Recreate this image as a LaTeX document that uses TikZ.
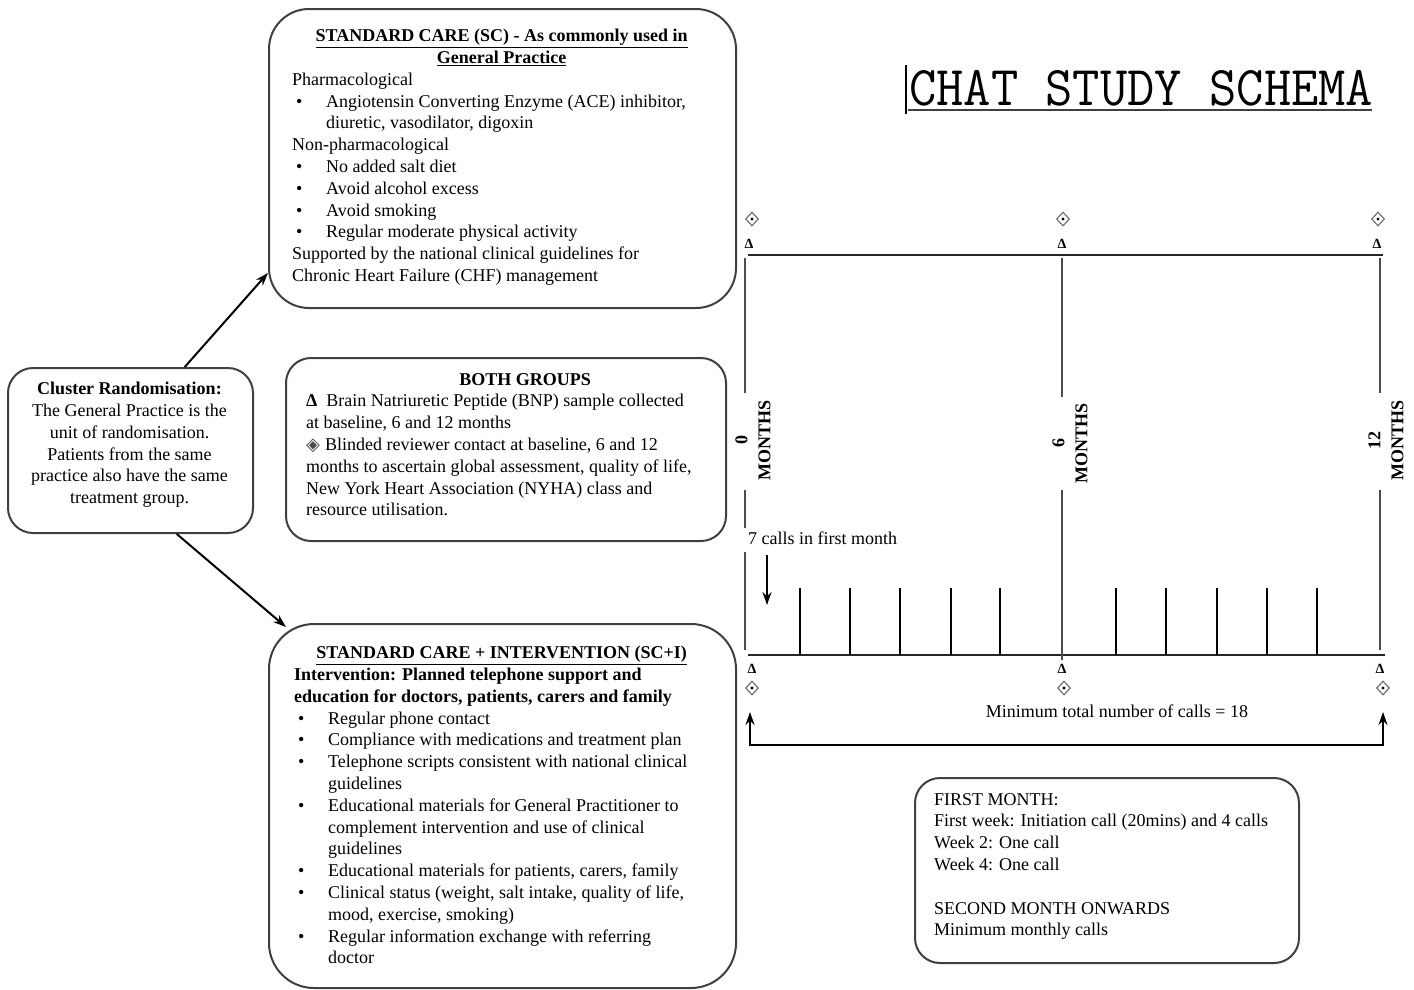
\documentclass[tikz,border=0pt]{standalone}
\usepackage{fontspec}
\setmainfont{Liberation Serif}
\newfontfamily\symfont{DejaVu Sans}
\usepackage{graphicx}
\usetikzlibrary{arrows.meta,calc,shapes.geometric}
\newcommand{\bitem}{\hspace*{4pt}\makebox[30pt][l]{\textbullet}}
\newcommand{\bcont}{\hspace*{34pt}}
\begin{document}
\begin{tikzpicture}[x=1pt,y=-1pt,
  box/.style={draw=black!75, line width=2pt, fill=white, inner sep=0pt, anchor=north west},
  txt/.style={anchor=north west, inner sep=0pt, align=left, font=\fontsize{18}{21.8}\selectfont},
  arr/.style={line width=2pt, -{Stealth[length=13pt,width=9pt]}},
  vline/.style={line width=1.4pt, black!70},
  tick/.style={line width=2pt, black},
  axis/.style={line width=2.5pt, black!85},
  dmd/.style={shape=diamond, draw=black!55, line width=1.2pt, inner sep=0pt, minimum width=13pt, minimum height=14pt,
     path picture={\fill[black] (path picture bounding box.center) circle (1.7pt);}},
  dlt/.style={inner sep=0pt, font=\fontsize{14}{14}\selectfont\bfseries},
  mlab/.style={rotate=90, align=center, inner sep=0pt, font=\fontsize{18}{23}\selectfont\bfseries}]
\useasboundingbox (0,0) rectangle (1414,989);

% boxes
\node[box, rounded corners=40pt, minimum width=467pt, minimum height=299pt] (sc) at (268,8) {};
\node[box, rounded corners=25pt, minimum width=245pt, minimum height=165pt] (clu) at (7,367) {};
\node[box, rounded corners=25pt, minimum width=440pt, minimum height=183pt] (both) at (285,357) {};
\node[box, rounded corners=45pt, minimum width=467pt, minimum height=364pt] (sci) at (268,623) {};
\node[box, rounded corners=25pt, minimum width=384pt, minimum height=185pt] (fm) at (914,777) {};

% texts
\node[txt] (sctext) at (292,29) {%
\makebox[419pt][c]{\bfseries\underline{STANDARD CARE (SC) - As commonly used in}}\\
\makebox[419pt][c]{\bfseries\underline{General Practice}}\\
Pharmacological\\
\bitem Angiotensin Converting Enzyme (ACE) inhibitor,\\
\bcont diuretic, vasodilator, digoxin\\
Non-pharmacological\\
\bitem No added salt diet\\
\bitem Avoid alcohol excess\\
\bitem Avoid smoking\\
\bitem Regular moderate physical activity\\
Supported by the national clinical guidelines for\\
Chronic Heart Failure (CHF) management};

\node[txt, align=center, anchor=north] (clutext) at (129.5,382) {%
\textbf{Cluster Randomisation:}\\
The General Practice is the\\
unit of randomisation.\\
Patients from the same\\
practice also have the same\\
treatment group.};

\node[txt] (bothtext) at (306,373) {%
\makebox[438pt][c]{\bfseries BOTH GROUPS}\\
\textbf{Δ}\hspace{9pt}Brain Natriuretic Peptide (BNP) sample collected\\
at baseline, 6 and 12 months\\
{\fontsize{18}{18}\symfont\color{black!70}◈}\hspace{5pt}Blinded reviewer contact at baseline, 6 and 12\\
months to ascertain global assessment, quality of life,\\
New York Heart Association (NYHA) class and\\
resource utilisation.};

\node[txt] (scitext) at (294,646) {%
\makebox[415pt][c]{\bfseries\underline{STANDARD CARE + INTERVENTION (SC+I)}}\\
\textbf{Intervention: Planned telephone support and}\\
\textbf{education for doctors, patients, carers and family}\\
\bitem Regular phone contact\\
\bitem Compliance with medications and treatment plan\\
\bitem Telephone scripts consistent with national clinical\\
\bcont guidelines\\
\bitem Educational materials for General Practitioner to\\
\bcont complement intervention and use of clinical\\
\bcont guidelines\\
\bitem Educational materials for patients, carers, family\\
\bitem Clinical status (weight, salt intake, quality of life,\\
\bcont mood, exercise, smoking)\\
\bitem Regular information exchange with referring\\
\bcont doctor};

\node[txt] (fmtext) at (934,793) {%
FIRST MONTH:\\
First week: Initiation call (20mins) and 4 calls\\
Week 2: One call\\
Week 4: One call\\
\mbox{}\\
SECOND MONTH ONWARDS\\
Minimum monthly calls};

% arrows from cluster box
\coordinate (scitip) at (286,627);
\draw[arr] (clu.57) -- (sc.206);
\draw[arr] (clu.-61) -- (scitip);

% title
\node[anchor=west, inner sep=0pt] (title) at (909,88) {\scalebox{1}[1.06]{\fontsize{53}{60}\selectfont\ttfamily CHAT STUDY SCHEMA}};
\coordinate (ulL) at (908,110);
\coordinate (ulR) at (1372,110);
\draw[line width=2pt, black!75] (ulL) -- (ulR);
\coordinate (barT) at (906,65);
\coordinate (barB) at (906,114);
\draw[line width=2.5pt] (barT) -- (barB);

% timeline axes
\coordinate (topL) at (748,255);
\coordinate (topR) at (1383,255);
\coordinate (botL) at (748,655);
\coordinate (botR) at (1385,655);
\draw[axis] (topL) -- (topR);
\draw[axis] (botL) -- (botR);

% vertical month lines
\draw[vline] (745,258) -- (745,393);
\draw[vline] (745,490) -- (745,528);
\draw[vline] (745,552) -- (745,650);
\draw[vline] (1062,258) -- (1062,397);
\draw[vline] (1062,490) -- (1062,660);
\draw[vline] (1380,258) -- (1380,393);
\draw[vline] (1380,490) -- (1380,650);

% month labels
\node[mlab] (m0) at (753,440) {0\\MONTHS};
\node[mlab] (m6) at (1070,443) {6\\MONTHS};
\node[mlab] (m12) at (1386,440) {12\\MONTHS};

% call ticks
\foreach \x in {800,850,900,951,1000,1116,1166,1217,1267,1317}
  \draw[tick] (\x,588) -- (\x,655);

% symbols top
\node[dmd] (d0t) at (752,219) {};
\node[dmd] (d6t) at (1063,219) {};
\node[dmd] (d12t) at (1378,219) {};
\node[dlt] (a0t) at (749,244) {Δ};
\node[dlt] (a6t) at (1062,244) {Δ};
\node[dlt] (a12t) at (1377,244) {Δ};
% symbols bottom
\node[dlt] (a0b) at (752,669) {Δ};
\node[dlt] (a6b) at (1062,669) {Δ};
\node[dlt] (a12b) at (1380,669) {Δ};
\node[dmd] (d0b) at (752,688) {};
\node[dmd] (d6b) at (1064,688) {};
\node[dmd] (d12b) at (1383,688) {};

% 7 calls
\node[txt, anchor=west] (seven) at (748,538) {7 calls in first month};
\coordinate (sevenS) at (767,555);
\coordinate (sevenE) at (767,605);
\draw[arr] (sevenS) -- (sevenE);

% minimum total
\node[txt, anchor=center] (mintot) at (1117,711) {Minimum total number of calls = 18};
\coordinate (brL) at (750,712);
\coordinate (brLB) at (750,745);
\coordinate (brRB) at (1383,745);
\coordinate (brR) at (1383,712);
\draw[line width=2pt, {Stealth[length=13pt,width=9pt]}-{Stealth[length=13pt,width=9pt]}] (brL) -- (brLB) -- (brRB) -- (brR);
\end{tikzpicture}
\end{document}
